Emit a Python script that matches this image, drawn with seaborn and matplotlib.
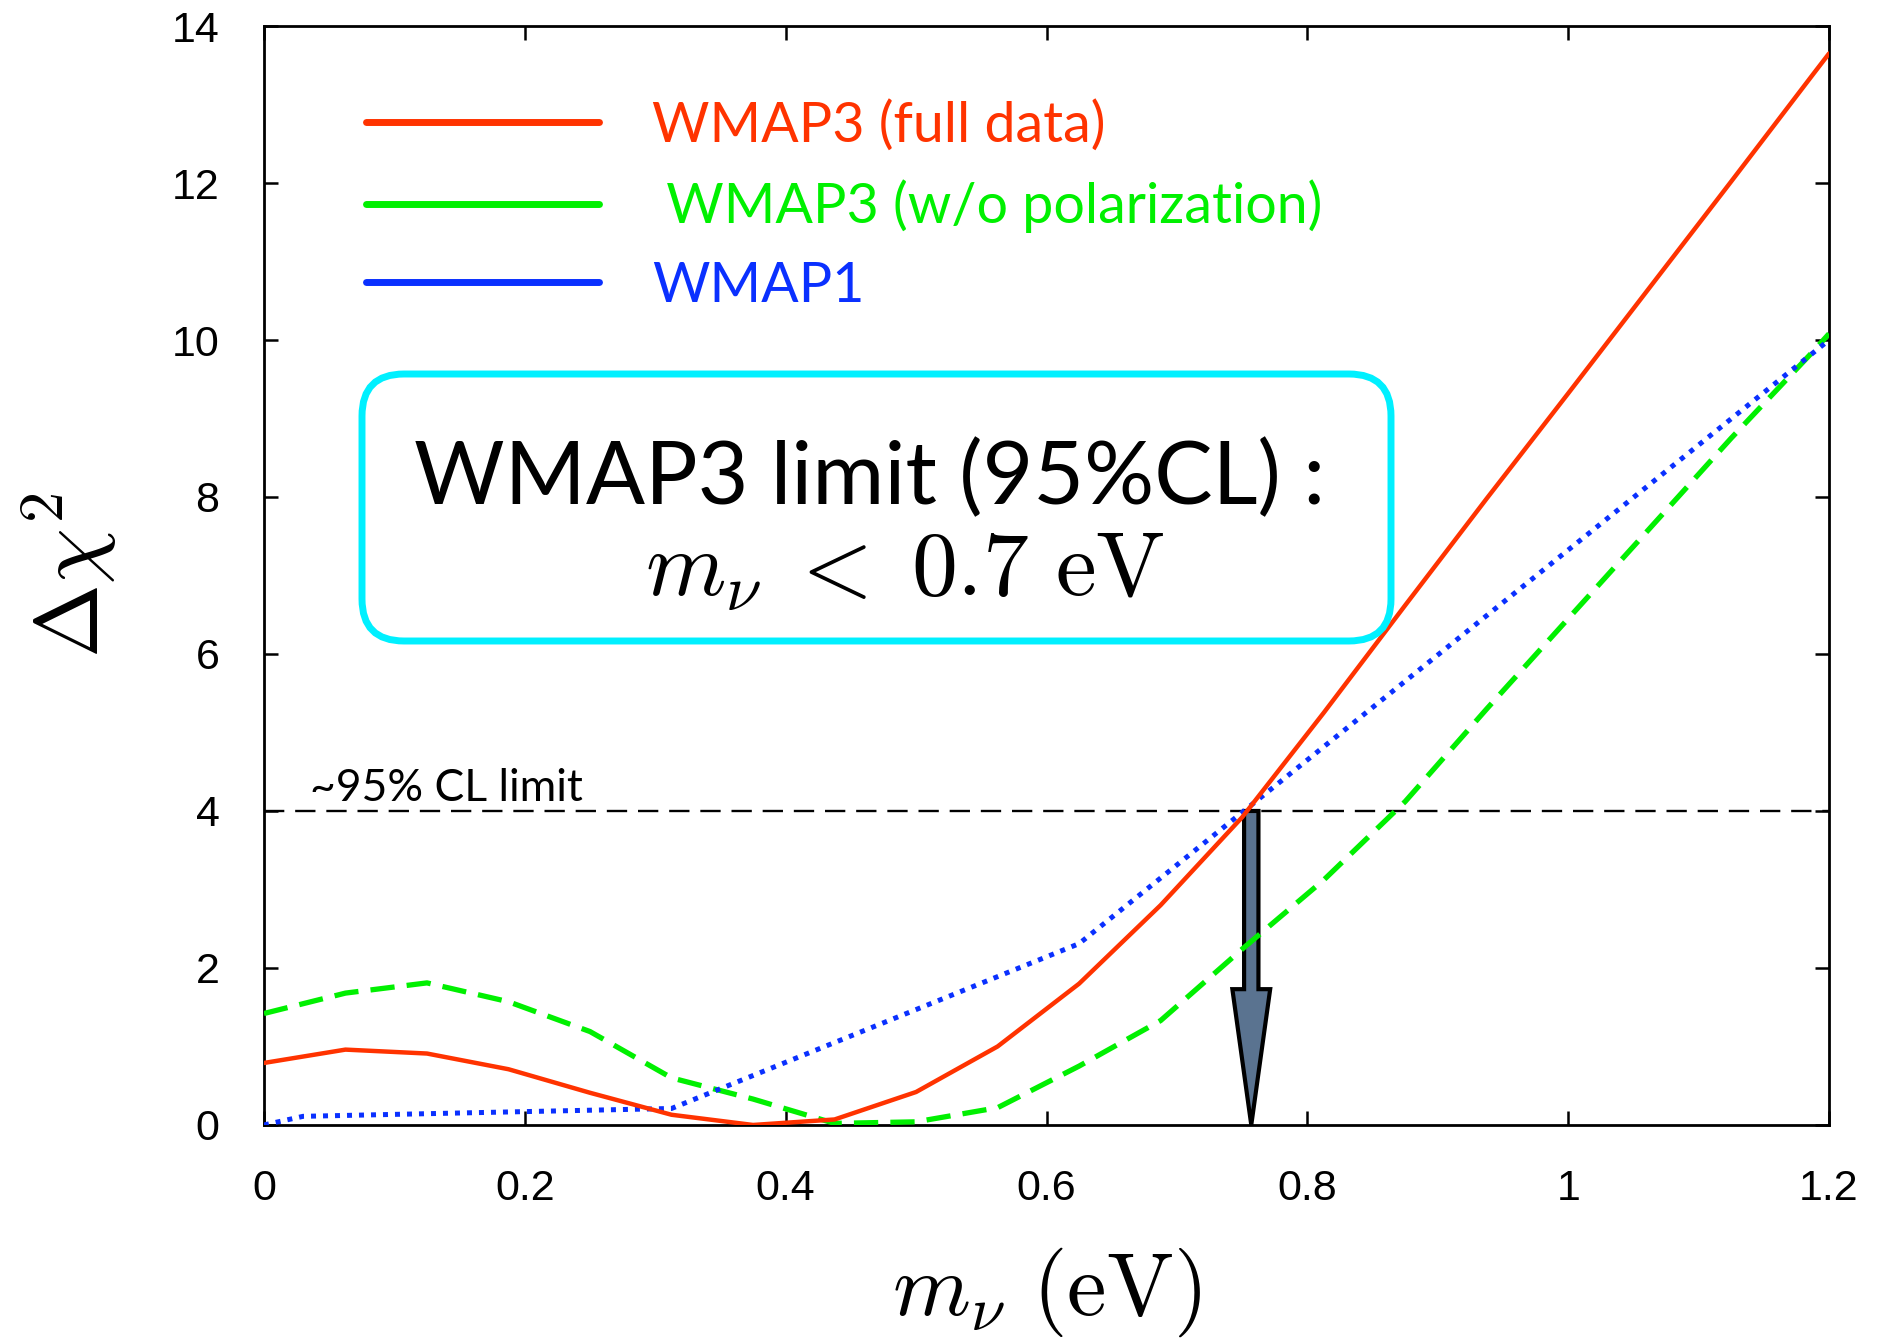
import numpy as np
import pandas as pd
import matplotlib
matplotlib.use("Agg")
import matplotlib.pyplot as plt
import seaborn as sns
from matplotlib.lines import Line2D
from matplotlib.patches import FancyBboxPatch, FancyArrow

# neutrino mass grid (eV) shared by the two WMAP3 curves
m_grid = [0.0, 0.0625, 0.125, 0.1875, 0.25, 0.3125, 0.375, 0.4375, 0.5, 0.5625,
          0.625, 0.6875, 0.75, 0.8125, 0.875, 0.9375, 1.0, 1.0625, 1.125, 1.1875, 1.2]
chi2_full = [0.79, 0.96, 0.91, 0.71, 0.41, 0.13, 0.0, 0.07, 0.42, 1.0,
             1.80, 2.80, 3.92, 5.25, 6.62, 7.98, 9.32, 10.67, 12.02, 13.38, 13.65]
chi2_nopol = [1.42, 1.68, 1.81, 1.57, 1.19, 0.60, 0.33, 0.02, 0.04, 0.22,
              0.75, 1.33, 2.24, 3.12, 4.12, 5.30, 6.45, 7.60, 8.75, 9.85, 10.08]
# WMAP1 curve has its own knots
m_wmap1 = [0.0, 0.03, 0.3125, 0.625, 1.2]
chi2_wmap1 = [0.0, 0.11, 0.21, 2.31, 10.0]

labels = ["WMAP3 (full data)", " WMAP3 (w/o polarization)", "WMAP1"]
colors = ["#ff3300", "#00f000", "#0a30ff"]
x_ticks = [0, 0.2, 0.4, 0.6, 0.8, 1.0, 1.2]
x_ticklabels = ["0", "0.2", "0.4", "0.6", "0.8", "1", "1.2"]
y_ticks = [0, 2, 4, 6, 8, 10, 12, 14]
cl_level = 4.0
m_limit = 0.757

sns.set_theme(style="ticks")
plt.rcParams["font.family"] = ["Liberation Sans", "DejaVu Sans"]
plt.rcParams["mathtext.fontset"] = "cm"
plt.rcParams["text.color"] = "black"
plt.rcParams["axes.labelcolor"] = "black"

fig = plt.figure(figsize=(18.8, 13.41), dpi=100)
ax = fig.add_axes([0.1404, 0.1611, 0.8325, 0.8195])

df_full = pd.DataFrame({"m": m_grid, "chi2": chi2_full})
df_nopol = pd.DataFrame({"m": m_grid, "chi2": chi2_nopol})
df_w1 = pd.DataFrame({"m": m_wmap1, "chi2": chi2_wmap1})

sns.lineplot(data=df_nopol, x="m", y="chi2", color=colors[1], lw=3.8,
             linestyle=(0, (4.6, 2.3)), ax=ax, zorder=3)
sns.lineplot(data=df_w1, x="m", y="chi2", color=colors[2], lw=3.6,
             linestyle=(0, (1.0, 1.4)), ax=ax, zorder=3)
sns.lineplot(data=df_full, x="m", y="chi2", color=colors[0], lw=3.2, ax=ax, zorder=4)

# 95% CL line and arrow
ax.axhline(cl_level, color="black", lw=1.7, linestyle=(0, (8.6, 4.6)), zorder=2)
ax.text(0.035, cl_level + 0.03, "~95% CL limit", family=["Lato"], fontsize=32,
        va="bottom", ha="left", color="black")
ax.add_patch(FancyArrow(m_limit, cl_level, 0, -cl_level, width=0.011, head_width=0.029,
                        head_length=1.73, length_includes_head=True,
                        fc="#5a7390", ec="black", lw=3, zorder=2.5))

# the limit box
box = FancyBboxPatch((3.62, 7.00), 10.29, 2.67, boxstyle="round,pad=0,rounding_size=0.42",
                     transform=fig.dpi_scale_trans, fc="white", ec="#00f0ff", lw=5, zorder=5)
ax.add_patch(box)
ax.text(0.4647, 7.91, "WMAP3 limit (95%CL) :", ha="center", va="baseline",
        fontsize=63, family=["Lato"], color="black", zorder=6)
ax.text(0.4915, 6.74, r"$m_\nu \;<\; 0.7\ \mathrm{eV}$", ha="center", va="baseline",
        fontsize=66, color="black", zorder=6)

handles = [Line2D([], [], color=c, lw=5) for c in colors]
ax.legend(handles, labels, loc="upper left", bbox_to_anchor=(0.065, 0.933), frameon=False,
          handlelength=4.2, handletextpad=0.95, labelspacing=0.5, borderpad=0,
          borderaxespad=0, labelcolor=colors, prop={"family": "Lato", "size": 40})

ax.set_xlim(0, 1.2)
ax.set_ylim(0, 14)
ax.set_xticks(x_ticks)
ax.set_xticklabels(x_ticklabels)
ax.set_yticks(y_ticks)
ax.tick_params(direction="in", top=True, right=True, length=10, width=1.8,
               labelsize=31, pad=32, colors="black")
for s in ax.spines.values():
    s.set_linewidth(2)
    s.set_color("black")
ax.set_xlabel(r"$m_{\nu}\ (\mathrm{eV})$", fontsize=64, labelpad=26)
ax.set_ylabel(r"$\Delta\chi^2$", fontsize=64, labelpad=38)

fig.savefig("out.png", dpi=100)
